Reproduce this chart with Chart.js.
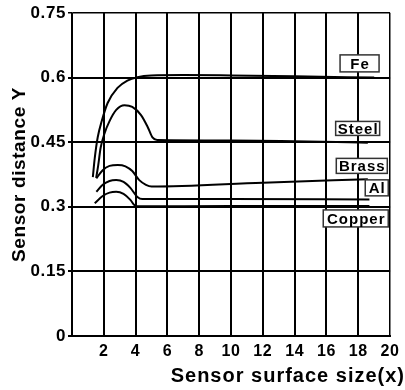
<!DOCTYPE html>
<html>
<head>
<meta charset="utf-8">
<script src="https://cdn.jsdelivr.net/npm/chart.js@4.4.1/dist/chart.umd.min.js"></script>
<style>
  html, body { margin: 0; padding: 0; background: #fff; }
  #c { display: block; }
</style>
</head>
<body>
<canvas id="c" width="405" height="390"></canvas>
<script>
// Axis tick labels
const xTickLabels = ['', '2', '4', '6', '8', '10', '12', '14', '16', '18', '20'];
const yTickLabels = ['0', '0.15', '0.3', '0.45', '0.6', '0.75'];

// Sensing distance curves: [surface size, distance]
const fe = [[1.31, 0.369], [1.43, 0.413], [1.62, 0.462], [1.87, 0.499], [2.24, 0.541],
            [2.86, 0.576], [3.48, 0.593], [4.11, 0.601], [4.98, 0.605], [7.0, 0.606],
            [10.0, 0.605], [14.0, 0.603], [19.0, 0.600]];
const steel = [[1.52, 0.367], [1.65, 0.397], [1.80, 0.437], [2.05, 0.471], [2.36, 0.499],
               [2.78, 0.525], [3.30, 0.536], [3.79, 0.532], [4.34, 0.513], [4.75, 0.486],
               [5.06, 0.461], [5.35, 0.455], [10.0, 0.454], [18.6, 0.449]];
const brass = [[1.53, 0.366], [1.93, 0.385], [2.36, 0.395], [2.88, 0.397], [3.36, 0.394],
               [3.79, 0.383], [4.23, 0.362], [4.65, 0.351], [5.0, 0.347], [12.0, 0.356],
               [18.6, 0.364]];
const al = [[1.53, 0.335], [1.93, 0.351], [2.36, 0.360], [2.78, 0.362], [3.24, 0.358],
            [3.67, 0.344], [4.11, 0.323], [4.42, 0.318], [10.0, 0.318], [18.7, 0.317]];
const copper = [[1.43, 0.308], [1.93, 0.325], [2.36, 0.333], [2.78, 0.335], [3.24, 0.330],
                [3.67, 0.316], [3.92, 0.304], [4.11, 0.301], [10.0, 0.302], [18.7, 0.302]];

// Material name tags, anchored in data space
const tagNames = ['Fe', 'Steel', 'Brass', 'Al', 'Copper'];
const tagAnchors = {
  Fe: [18.08, 0.633], Steel: [17.96, 0.482], Brass: [18.22, 0.395],
  Al: [19.16, 0.344], Copper: [17.84, 0.273]
};
const tagBoxSize = {
  Fe: [39, 17], Steel: [44, 14], Brass: [51, 15], Al: [23, 16], Copper: [65, 17]
};

const FONT = '"Liberation Sans", Arial, Helvetica, sans-serif';
Chart.defaults.font.family = FONT;
Chart.defaults.color = '#000';

const toPoints = arr => arr.map(([x, y]) => ({ x, y }));
const series = [fe, steel, brass, al, copper];

const curveStyle = {
  borderColor: '#000',
  borderWidth: 2,
  pointRadius: 0,
  fill: false,
  cubicInterpolationMode: 'monotone'
};

// Slight tracking on all canvas text
const tracking = {
  id: 'tracking',
  beforeDraw(chart) { chart.ctx.letterSpacing = '0.6px'; }
};

// White boxed material tags next to the curve ends
const tagPlugin = {
  id: 'tags',
  afterDatasetsDraw(chart) {
    const { ctx, scales: { x, y } } = chart;
    ctx.save();
    ctx.font = 'bold 15px ' + FONT;
    ctx.letterSpacing = '1px';
    ctx.textAlign = 'center';
    ctx.textBaseline = 'middle';
    tagNames.forEach(name => {
      const [vx, vy] = tagAnchors[name];
      const [w, h] = tagBoxSize[name];
      const cx = x.getPixelForValue(vx);
      const cy = y.getPixelForValue(vy);
      ctx.fillStyle = '#fff';
      ctx.fillRect(cx - w / 2, cy - h / 2, w, h);
      ctx.strokeStyle = '#333';
      ctx.lineWidth = 1.5;
      ctx.strokeRect(cx - w / 2, cy - h / 2, w, h);
      ctx.fillStyle = '#000';
      ctx.fillText(name, cx + 0.5, cy + 1);
    });
    ctx.restore();
  }
};

// X axis title, right aligned to the canvas edge
const xTitle = {
  id: 'xTitle',
  afterDraw(chart) {
    const ctx = chart.ctx;
    ctx.save();
    ctx.font = 'bold 20px ' + FONT;
    ctx.letterSpacing = '1px';
    ctx.fillStyle = '#000';
    ctx.textAlign = 'right';
    ctx.textBaseline = 'alphabetic';
    ctx.fillText('Sensor surface size(x)', chart.width, chart.height - 8);
    ctx.restore();
  }
};

new Chart(document.getElementById('c'), {
  type: 'line',
  data: {
    datasets: series.map(s => Object.assign({ data: toPoints(s) }, curveStyle))
  },
  options: {
    responsive: false,
    animation: false,
    events: [],
    layout: { padding: { top: 13, right: 12, left: 0, bottom: 0 } },
    plugins: { legend: { display: false }, tooltip: { enabled: false } },
    scales: {
      x: {
        type: 'linear',
        min: 0,
        max: 20,
        afterFit(s) { s.height = 54; },
        ticks: {
          stepSize: 2,
          autoSkip: false,
          maxRotation: 0,
          padding: 6,
          font: { size: 16, weight: 'bold' },
          callback: (v, i) => xTickLabels[i] ?? ''
        },
        grid: {
          color: '#000',
          lineWidth: c => (c.index === 10 ? 1.5 : 2),
          drawTicks: false
        },
        border: { color: '#000', width: 2 }
      },
      y: {
        type: 'linear',
        min: 0,
        max: 0.75,
        afterFit(s) { s.width = 72; },
        ticks: {
          stepSize: 0.15,
          autoSkip: false,
          padding: 2,
          font: { size: 17, weight: 'bold' },
          callback: (v, i) => yTickLabels[i] ?? ''
        },
        grid: {
          color: '#000',
          lineWidth: c => (c.index === 5 ? 1.5 : 2),
          tickLength: 4
        },
        border: { color: '#000', width: 1.5 },
        title: {
          display: true,
          text: 'Sensor distance Y',
          font: { size: 19, weight: 'bold' },
          padding: { top: 8, bottom: 0 }
        }
      }
    }
  },
  plugins: [tracking, tagPlugin, xTitle]
});
</script>
</body>
</html>
